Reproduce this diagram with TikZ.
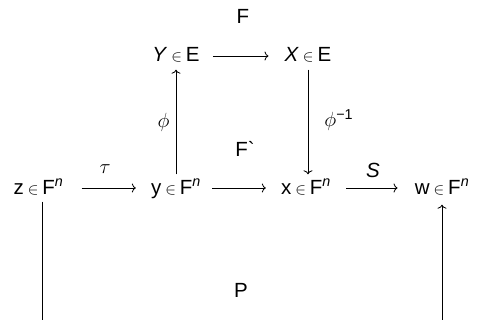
\RequirePackage{fix-cm}
\documentclass[tikz,border=0pt]{standalone}
\usepackage{fontspec}
\setmainfont{Liberation Sans}
\usetikzlibrary{arrows.meta}
\newcommand\myin{\hspace{4pt}{\fontsize{16}{16}\selectfont$\in$}\hspace{4pt}}
\newcommand\supn{\textsuperscript{\itshape n}}
\begin{document}
\begin{tikzpicture}[x=1pt,y=-1pt,font=\fontsize{20.5}{24}\selectfont,
  row/.style={anchor=base,text height=12pt,text depth=0pt,inner xsep=8pt,inner ysep=7.5pt},
  lbl/.style={inner sep=0pt},
  arr/.style={line width=0.85pt,-{To[length=4pt,width=9pt]}},
  ln/.style={line width=0.85pt}]
\useasboundingbox (0,0) rectangle (478,320);
% labels
\node[lbl,anchor=base] (Ft) at (243,24) {F};
\node[lbl,anchor=base] (Fp) at (245,157) {F\textasciigrave};
\node[lbl,anchor=base] (P) at (241,297) {P};
% top row
\node[row] (Y) at (176,62) {\textit{Y}\myin E};
\node[row] (X) at (308,62) {\textit{X}\myin E};
% bottom row
\node[row] (z) at (38.5,194) {z\myin F\supn};
\node[row] (y) at (176,194) {y\myin F\supn};
\node[row] (x) at (306,194) {x\myin F\supn};
\node[row] (w) at (442,194) {w\myin F\supn};
% free ends
\coordinate (zb) at (42,320);
\coordinate (wb) at (442,320);
% connectors
\draw[arr,shorten <=5pt,shorten >=8pt] (Y) -- (X);
\draw[arr] (y) -- node[lbl,pos=0.5,left=6pt] (phi) {$\phi$} (Y);
\draw[arr] (X) -- node[lbl,pos=0.48,right=16pt] (phiinv) {$\phi$\textsuperscript{\char"2212 1}} (X |- x.north);
\draw[arr,shorten <=10pt,shorten >=7pt] (z) -- node[lbl,above=14pt,xshift=-2pt] (tau) {$\tau$} (y);
\draw[arr,shorten <=3pt,shorten >=7pt] (y) -- (x);
\draw[arr,shorten <=7pt,shorten >=9pt] (x) -- node[lbl,above=10pt] (S) {\textit{S}} (w);
\draw[ln] (z.south -| zb) -- (zb);
\draw[arr,shorten >=3pt] (wb) -- (w);
\end{tikzpicture}
\end{document}
